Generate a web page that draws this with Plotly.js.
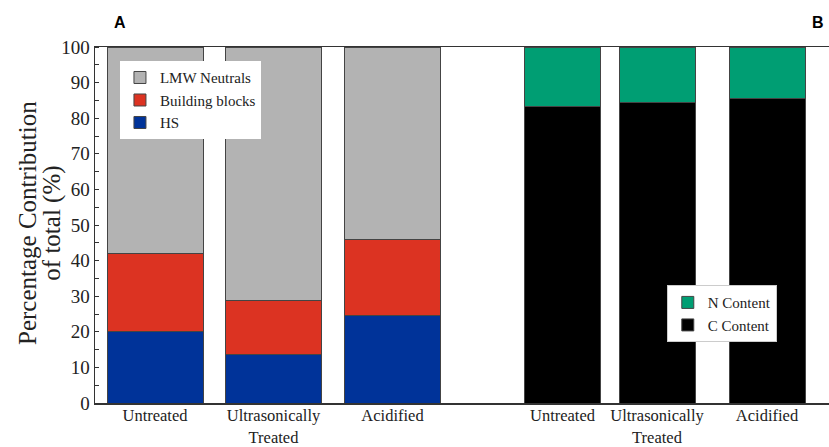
<!DOCTYPE html>
<html><head><meta charset="utf-8">
<script src="https://cdn.plot.ly/plotly-3.0.1.min.js"></script>
<style>body{margin:0;background:#fff}#c{width:829px;height:447px}</style>
</head><body><div id="c"></div>
<script>
// Data
const categories = ["Untreated", "Ultrasonically<br>Treated", "Acidified"];
const hs = [20, 13.5, 24.7];
const buildingBlocks = [22, 15.4, 21.1];
const lmwNeutrals = [58, 71.1, 54.2];
const cContent = [83.4, 84.4, 85.6];
const nContent = [16.6, 15.6, 14.4];
const yTickVals = [0,10,20,30,40,50,60,70,80,90,100];
const yTitleLines = ["Percentage Contribution", "of total (%)"];

// Layout positions (axis units)
const posA = [0.60, 1.785, 2.975];
const posB = [4.675, 5.62, 6.72];
const wA = 0.96, wB = 0.76;

const serif = "'Liberation Serif', 'Times New Roman', serif";
const outline = {color: "#444", width: 1};

const traces = [
  {type:"bar", name:"HS", x:posA, y:hs, width:wA, marker:{color:"#003399", line:outline}, legend:"legend"},
  {type:"bar", name:"Building blocks", x:posA, y:buildingBlocks, width:wA, marker:{color:"#dc3322", line:outline}, legend:"legend"},
  {type:"bar", name:"LMW Neutrals", x:posA, y:lmwNeutrals, width:wA, marker:{color:"#b3b3b3", line:outline}, legend:"legend"},
  {type:"bar", name:"C Content", x:posB, y:cContent, width:wB, marker:{color:"#000000", line:outline}, legend:"legend2"},
  {type:"bar", name:"N Content", x:posB, y:nContent, width:wB, marker:{color:"#009e73", line:outline}, legend:"legend2"}
];

const layout = {
  width:829, height:447,
  margin:{l:95, r:0, t:47, b:44},
  barmode:"stack",
  paper_bgcolor:"#fff", plot_bgcolor:"#fff",
  font:{family:serif, color:"#222", size:16},
  xaxis:{range:[0,7.34], tickmode:"array", tickvals:posA.concat(posB), ticktext:categories.concat(categories),
         showline:true, linecolor:"#333", linewidth:1.5, mirror:true, ticks:"", showgrid:false, zeroline:false,
         ticklabelstandoff:-3, tickfont:{family:serif, size:16.5, color:"#222"}},
  yaxis:{range:[0,100], tickmode:"array", tickvals:yTickVals, ticks:"", showgrid:false, zeroline:false,
         showline:true, linecolor:"#333", linewidth:1.5,
         tickfont:{family:serif, size:19, color:"#222"},
         minor:{dtick:5, tick0:0, ticks:"inside", ticklen:4, tickcolor:"#333", showgrid:false}},
  legend:{x:0.034, y:0.96, xanchor:"left", yanchor:"top", traceorder:"reversed", bgcolor:"#fff",
          font:{family:serif, size:15, color:"#222"}},
  legend2:{x:0.779, y:0.331, xanchor:"left", yanchor:"top", traceorder:"reversed", bgcolor:"#fff",
           bordercolor:"#ccc", borderwidth:1, font:{family:serif, size:15, color:"#222"}},
  annotations:[
    {text:yTitleLines[0], xref:"paper", yref:"paper", x:-0.093, y:0.505, textangle:-90, xanchor:"center", yanchor:"middle",
     showarrow:false, font:{family:serif, size:25, color:"#222"}},
    {text:yTitleLines[1], xref:"paper", yref:"paper", x:-0.058, y:0.505, textangle:-90, xanchor:"center", yanchor:"middle",
     showarrow:false, font:{family:serif, size:25, color:"#222"}},
    {text:"<b>A</b>", xref:"paper", yref:"paper", x:0.034, y:1.07, xanchor:"center", yanchor:"middle", showarrow:false, font:{family:"Liberation Sans", size:16, color:"#000"}},
    {text:"<b>B</b>", xref:"paper", yref:"paper", x:0.985, y:1.07, xanchor:"center", yanchor:"middle", showarrow:false, font:{family:"Liberation Sans", size:16, color:"#000"}}
  ],
  showlegend:true
};
Plotly.newPlot("c", traces, layout, {displayModeBar:false, staticPlot:true});
</script></body></html>
